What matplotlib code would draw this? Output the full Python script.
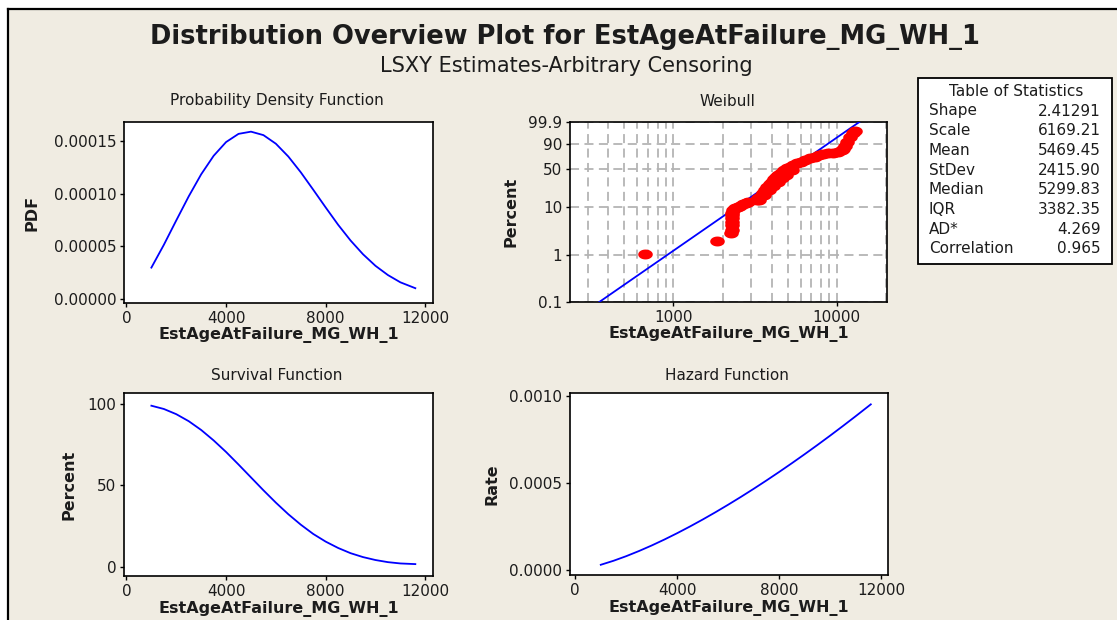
import numpy as np
import matplotlib
matplotlib.use("Agg")
import matplotlib.pyplot as plt
from matplotlib.patches import Rectangle
from matplotlib.lines import Line2D
from matplotlib.ticker import FixedLocator, NullFormatter, FixedFormatter

W, H = 1117, 620
BG = '#f0ece2'
BLUE = '#0000ff'
RED = '#ff0000'
TXT = '#1c1c1c'

var_name = 'EstAgeAtFailure_MG_WH_1'

# fitted curves sampled along the age axis
age = [1000, 1500, 2000, 2500, 3000, 3500, 4000, 4500, 5000, 5500, 6000,
       6500, 7000, 7500, 8000, 8500, 9000, 9500, 10000, 10500, 11000, 11600]
pdf_vals = [2.96e-5, 5.13e-5, 7.46e-5, 9.75e-5, 1.185e-4, 1.361e-4, 1.492e-4,
            1.570e-4, 1.591e-4, 1.558e-4, 1.476e-4, 1.354e-4, 1.204e-4,
            1.038e-4, 8.69e-5, 7.04e-5, 5.54e-5, 4.23e-5, 3.13e-5, 2.25e-5,
            1.56e-5, 1.0e-5]
surv_pct = [98.8, 96.8, 93.6, 89.3, 83.9, 77.5, 70.4, 62.7, 54.8, 46.9, 39.3,
            32.2, 25.8, 20.1, 15.4, 11.5, 8.3, 5.9, 4.1, 2.8, 2.0, 1.6]
hazard = [2.99e-5, 5.30e-5, 7.96e-5, 1.092e-4, 1.412e-4, 1.756e-4, 2.121e-4,
          2.505e-4, 2.907e-4, 3.326e-4, 3.761e-4, 4.211e-4, 4.676e-4,
          5.155e-4, 5.647e-4, 6.152e-4, 6.669e-4, 7.198e-4, 7.739e-4,
          8.292e-4, 8.856e-4, 9.546e-4]

# probability plot: plotted failures and fitted line
fail_age = [674, 1843, 2244, 2276, 2276, 2276, 2276, 2290, 2300, 2320,
            2388, 2470, 2560, 2680, 2785, 2870,
            3250, 3313, 3420, 3530, 3640, 3760, 3880, 4000, 4130, 4260,
            4392, 4560, 4750, 4945, 5180, 5430, 5690, 6000, 6400, 6870,
            7350, 7800, 8280, 8900, 9530, 10230, 10700, 10970, 11200,
            11500, 12050, 12640, 12940,
            3350, 3600, 3850, 4100, 4350, 4650, 4900, 5300]
fail_pct = [1.05, 2.0, 2.9, 3.4, 4.2, 5.0, 5.9, 6.8, 7.7, 8.6,
            9.6, 10.2, 10.8, 11.5, 12.3, 12.6,
            14.2, 15.0, 16.8, 19.0, 21.6, 24.5, 27.5, 30.7, 34.0, 37.0,
            39.9, 43.5, 47.2, 50.7, 54.0, 56.8, 59.4, 62.2, 65.4, 68.4,
            71.3, 74.0, 76.5, 77.2, 77.5, 79.6, 82.0, 84.7, 88.5,
            92.6, 96.4, 98.2, 98.8,
            13.8, 17.5, 21.5, 26.0, 30.5, 35.5, 40.5, 47.5]
fit_age = [352, 13750]
fit_pct = [0.1, 99.9]

stat_names = ['Shape', 'Scale', 'Mean', 'StDev', 'Median', 'IQR', 'AD*',
              'Correlation']
stat_values = ['2.41291', '6169.21', '5469.45', '2415.90', '5299.83',
               '3382.35', '4.269', '0.965']

plt.rcParams['font.family'] = 'DejaVu Sans'

fig = plt.figure(figsize=(W / 100, H / 100), dpi=100, facecolor='white')

# beige panel with a black edge on top and left
fig.add_artist(Rectangle((8 / W, 0), 1, 1 - 9 / H, transform=fig.transFigure,
                         facecolor=BG, edgecolor='none', zorder=0))
fig.add_artist(Line2D([8 / W, 1], [1 - 9 / H, 1 - 9 / H], color='black', lw=1.6))
fig.add_artist(Line2D([8 / W, 8 / W], [0, 1 - 9 / H], color='black', lw=1.6))


def box(l, t, r, b):
    return [l / W, 1 - b / H, (r - l) / W, (b - t) / H]


def ftext(x, y, s, **kw):
    fig.text(x / W, 1 - y / H, s, **kw)


def style(ax, xlab_y, ylab_x, ylab):
    ax.set_facecolor('white')
    for sp in ax.spines.values():
        sp.set_linewidth(1.2)
        sp.set_color('black')
    ax.tick_params(direction='out', length=3, width=1, pad=2.5,
                   labelsize=11, colors='black', labelcolor=TXT)
    ax.set_xlabel(var_name, fontsize=11.5, fontweight='bold', color=TXT)
    ax.xaxis.set_label_coords(0.5, xlab_y)
    ax.set_ylabel(ylab, fontsize=11.5, fontweight='bold', color=TXT)
    ax.yaxis.set_label_coords(ylab_x, 0.5)


def lin_x(ax):
    ax.set_xlim(-100, 12310)
    ax.set_xticks([0, 4000, 8000, 12000])


ftext(565, 37, 'Distribution Overview Plot for ' + var_name,
      ha='center', va='center', fontsize=18.5, fontweight='bold', color=TXT)
ftext(566, 66, 'LSXY Estimates-Arbitrary Censoring',
      ha='center', va='center', fontsize=15, color=TXT)

# probability density
ax1 = fig.add_axes(box(124, 122, 433, 303))
ax1.plot(age, pdf_vals, color=BLUE, lw=1.3)
lin_x(ax1)
ax1.set_ylim(-0.0000041, 0.0001683)
ax1.set_yticks([0, 0.00005, 0.0001, 0.00015])
ax1.set_yticklabels(['0.00000', '0.00005', '0.00010', '0.00015'])
style(ax1, -0.133, -0.272, 'PDF')
ftext(277, 101, 'Probability Density Function', ha='center', va='center',
      fontsize=11, color=TXT)

# weibull probability plot
ax2 = fig.add_axes(box(570, 122, 887, 302))


def wb_fwd(p):
    p = np.clip(np.asarray(p, dtype=float), 1e-6, 100 - 1e-6)
    return np.log(-np.log(1 - p / 100.0))


def wb_inv(y):
    return 100.0 * (1 - np.exp(-np.exp(y)))


ax2.set_xscale('log')
ax2.set_yscale('function', functions=(wb_fwd, wb_inv))
ax2.set_xlim(233, 20300)
ax2.set_ylim(0.1, 99.9)
ax2.xaxis.set_major_locator(FixedLocator([1000, 10000]))
ax2.xaxis.set_major_formatter(FixedFormatter(['1000', '10000']))
minor = [m * d for d in (100, 1000, 10000) for m in range(2, 10)]
ax2.xaxis.set_minor_locator(FixedLocator([v for v in minor if 250 < v <= 20000]))
ax2.xaxis.set_minor_formatter(NullFormatter())
yt = [0.1, 1, 10, 50, 90, 99.9]
ax2.yaxis.set_major_locator(FixedLocator(yt))
ax2.yaxis.set_major_formatter(FixedFormatter(['0.1', '1', '10', '50', '90', '99.9']))
ax2.yaxis.set_minor_locator(FixedLocator([]))
ax2.grid(True, which='both', axis='x', color='#b4b4b4', lw=1.3,
         linestyle=(0, (5, 3)))
ax2.grid(True, which='major', axis='y', color='#b4b4b4', lw=1.3,
         linestyle=(0, (5, 3)))
ax2.set_axisbelow(True)
t = np.linspace(0, 2 * np.pi, 40)
oval = list(zip(np.cos(t), 0.68 * np.sin(t)))
ax2.plot(fit_age, fit_pct, color=BLUE, lw=1.3, zorder=3)
ax2.plot(fail_age, fail_pct, linestyle='none', marker=oval, markersize=10.5,
         color=RED, markeredgewidth=0, zorder=4)
style(ax2, -0.133, -0.164, 'Percent')
ax2.tick_params(which='minor', length=0)
ftext(727, 101, 'Weibull', ha='center', va='center', fontsize=11, color=TXT)

# survival
ax3 = fig.add_axes(box(124, 393, 433, 576))
ax3.plot(age, surv_pct, color=BLUE, lw=1.3)
lin_x(ax3)
ax3.set_ylim(-5.7, 106.6)
ax3.set_yticks([0, 50, 100])
style(ax3, -0.135, -0.155, 'Percent')
ftext(277, 375, 'Survival Function', ha='center', va='center',
      fontsize=11, color=TXT)

# hazard
ax4 = fig.add_axes(box(570, 393, 888, 575))
ax4.plot(age, hazard, color=BLUE, lw=1.3)
ax4.set_xlim(-208, 12275)
ax4.set_xticks([0, 4000, 8000, 12000])
ax4.set_ylim(-0.000029, 0.00102)
ax4.set_yticks([0, 0.0005, 0.001])
ax4.set_yticklabels(['0.0000', '0.0005', '0.0010'])
style(ax4, -0.135, -0.223, 'Rate')
ftext(727, 375, 'Hazard Function', ha='center', va='center',
      fontsize=11, color=TXT)

# statistics table
fig.add_artist(Rectangle((918 / W, 1 - 264 / H), (1112 - 918) / W, (264 - 78) / H,
                         transform=fig.transFigure, facecolor='white',
                         edgecolor='black', lw=1.3, zorder=1))
ftext(1016, 91, 'Table of Statistics', ha='center', va='center',
      fontsize=11, color=TXT)
for i, (name, val) in enumerate(zip(stat_names, stat_values)):
    y = 111 + 19.7 * i
    ftext(929, y, name, ha='left', va='center', fontsize=11, color=TXT)
    ftext(1101, y, val, ha='right', va='center', fontsize=11, color=TXT)

fig.savefig('out.png', dpi=100, facecolor=fig.get_facecolor())
